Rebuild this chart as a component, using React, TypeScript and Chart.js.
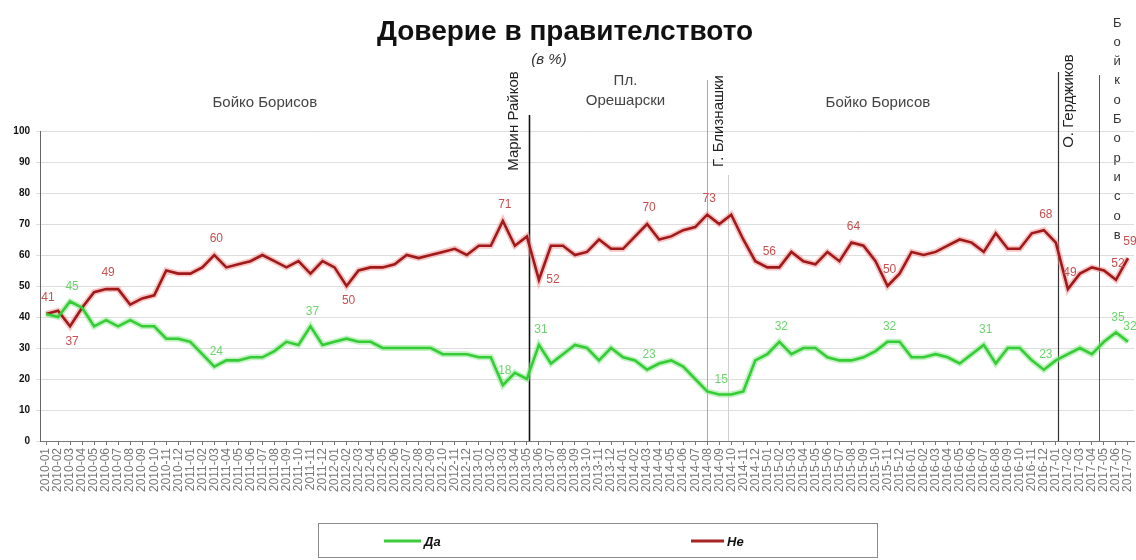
import React, { useEffect, useRef } from "react";
import { Chart, registerables } from "chart.js";

Chart.register(...registerables);

const months: string[] = [
  "2010-01", "2010-02", "2010-03", "2010-04", "2010-05", "2010-06", "2010-07", "2010-08", "2010-09", "2010-10", "2010-11", "2010-12",
  "2011-01", "2011-02", "2011-03", "2011-04", "2011-05", "2011-06", "2011-07", "2011-08", "2011-09", "2011-10", "2011-11", "2011-12",
  "2012-01", "2012-02", "2012-03", "2012-04", "2012-05", "2012-06", "2012-07", "2012-08", "2012-09", "2012-10", "2012-11", "2012-12",
  "2013-01", "2013-02", "2013-03", "2013-04", "2013-05", "2013-06", "2013-07", "2013-08", "2013-09", "2013-10", "2013-11", "2013-12",
  "2014-01", "2014-02", "2014-03", "2014-04", "2014-05", "2014-06", "2014-07", "2014-08", "2014-09", "2014-10", "2014-11", "2014-12",
  "2015-01", "2015-02", "2015-03", "2015-04", "2015-05", "2015-06", "2015-07", "2015-08", "2015-09", "2015-10", "2015-11", "2015-12",
  "2016-01", "2016-02", "2016-03", "2016-04", "2016-05", "2016-06", "2016-07", "2016-08", "2016-09", "2016-10", "2016-11", "2016-12",
  "2017-01", "2017-02", "2017-03", "2017-04", "2017-05", "2017-06", "2017-07",
];

const da: number[] = [
  41, 40, 45, 43, 37, 39, 37, 39, 37, 37, 33, 33, 32, 28, 24, 26, 26, 27, 27, 29, 32, 31, 37, 31, 32, 33, 32, 32,
  30, 30, 30, 30, 30, 28, 28, 28, 27, 27, 18, 22, 20, 31, 25, 28, 31, 30, 26, 30, 27, 26, 23, 25, 26, 24, 20, 16, 15, 15, 16,
  26, 28, 32, 28, 30, 30, 27, 26, 26, 27, 29, 32, 32, 27, 27, 28, 27, 25, 28, 31, 25, 30, 30, 26, 23, 26, 28, 30, 28, 32, 35, 32,
];

const ne: number[] = [
  41, 42, 37, 43, 48, 49, 49, 44, 46, 47, 55, 54, 54, 56, 60, 56, 57, 58, 60, 58, 56, 58, 54, 58, 56, 50, 55, 56,
  56, 57, 60, 59, 60, 61, 62, 60, 63, 63, 71, 63, 66, 52, 63, 63, 60, 61, 65, 62, 62, 66, 70, 65, 66, 68, 69, 73, 70, 73, 65,
  58, 56, 56, 61, 58, 57, 61, 58, 64, 63, 58, 50, 54, 61, 60, 61, 63, 65, 64, 61, 67, 62, 62, 67, 68, 64, 49, 54, 56, 55, 52, 59,
];

const seriesNames: string[] = ["Да", "Не"];

// indices of labelled points
const daLabelIdx: number[] = [2, 14, 22, 38, 41, 50, 56, 61, 70, 78, 83, 89, 90];
const neLabelIdx: number[] = [0, 2, 5, 14, 25, 38, 41, 50, 55, 60, 67, 70, 83, 85, 89, 90];
const neLabelsBelow: number[] = [2, 25];
const neLabelsRight: number[] = [41];

const title = "Доверие в правителството";
const subtitle = "(в %)";

// government periods (horizontal labels), position as category index
const periodTexts: string[][] = [["Бойко Борисов"], ["Пл.", "Орешарски"], ["Бойко Борисов"]];
const periodAt: number[] = [18.2, 48.2, 69.2];

// caretaker / change markers: line position and rotated label position (category index)
const markerNames: string[] = ["Марин Райков", "Г. Близнашки", "О. Герджиков", "Бойко Борисов"];
const markerLineAt: number[] = [40.2, 55.0, 84.2, 87.6];
const markerTextAt: number[] = [38.9, 56.0, 85.1, 89.1];

const FONT = "'Liberation Sans', Arial, sans-serif";

const overlay = {
  id: "overlay",
  beforeDatasetsDraw(chart: any) {
    const ctx = chart.ctx as CanvasRenderingContext2D;
    const xs = chart.scales.x;
    const bottom = chart.chartArea.bottom;
    const tops = [115, 80, 72, 75];
    const colors = ["#111", "#aaa", "#333", "#555"];
    const widths = [1.6, 1, 1.2, 1];
    ctx.save();
    markerLineAt.forEach((v, i) => {
      const x = Math.round(xs.getPixelForValue(v)) + 0.5;
      ctx.strokeStyle = colors[i];
      ctx.lineWidth = widths[i];
      ctx.beginPath();
      ctx.moveTo(x, tops[i]);
      ctx.lineTo(x, bottom);
      ctx.stroke();
    });
    const xb = Math.round(xs.getPixelForValue(56.7)) + 0.5;
    ctx.strokeStyle = "#cfcfcf";
    ctx.lineWidth = 1;
    ctx.beginPath();
    ctx.moveTo(xb, 175);
    ctx.lineTo(xb, bottom);
    ctx.stroke();
    ctx.restore();
  },
  afterDatasetsDraw(chart: any) {
    const ctx = chart.ctx as CanvasRenderingContext2D;
    const xs = chart.scales.x;
    const ys = chart.scales.y;
    ctx.save();
    ctx.font = `12px ${FONT}`;
    ctx.textAlign = "center";
    ctx.textBaseline = "middle";
    ctx.fillStyle = "#6cd46c";
    daLabelIdx.forEach((i) => {
      const x = xs.getPixelForValue(i);
      const y = ys.getPixelForValue(da[i]);
      ctx.fillText(String(da[i]), x + 2, y - 15);
    });
    ctx.fillStyle = "#c85050";
    neLabelIdx.forEach((i) => {
      const x = xs.getPixelForValue(i);
      const y = ys.getPixelForValue(ne[i]);
      if (neLabelsBelow.includes(i)) ctx.fillText(String(ne[i]), x + 2, y + 15);
      else if (neLabelsRight.includes(i)) ctx.fillText(String(ne[i]), x + 14, y);
      else ctx.fillText(String(ne[i]), x + 2, y - 16);
    });
    ctx.restore();
  },
  afterDraw(chart: any) {
    const ctx = chart.ctx as CanvasRenderingContext2D;
    const xs = chart.scales.x;
    ctx.save();
    ctx.fillStyle = "#111";
    ctx.textAlign = "center";
    ctx.textBaseline = "middle";
    ctx.font = `bold 28px ${FONT}`;
    ctx.fillText(title, 565, 32);
    ctx.font = `italic 15px ${FONT}`;
    ctx.fillStyle = "#333";
    ctx.fillText(subtitle, 549, 60);

    ctx.font = `15px ${FONT}`;
    ctx.fillStyle = "#444";
    periodTexts.forEach((lines, k) => {
      const x = xs.getPixelForValue(periodAt[k]);
      const y0 = lines.length > 1 ? 81 : 103;
      lines.forEach((t, j) => ctx.fillText(t, x, y0 + j * 20));
    });

    const centersY = [121, 121, 101];
    for (let k = 0; k < 3; k++) {
      const x = xs.getPixelForValue(markerTextAt[k]);
      ctx.save();
      ctx.translate(x, centersY[k]);
      ctx.rotate(-Math.PI / 2);
      ctx.fillStyle = "#222";
      ctx.font = `15px ${FONT}`;
      ctx.fillText(markerNames[k], 0, 0);
      ctx.restore();
    }
    const xl = xs.getPixelForValue(markerTextAt[3]);
    ctx.font = `13px ${FONT}`;
    ctx.fillStyle = "#333";
    const letters = Array.from(markerNames[3].replace(" ", ""));
    letters.forEach((ch, j) => ctx.fillText(ch, xl, 23 + j * 19.3));

    ctx.strokeStyle = "#8a8a8a";
    ctx.lineWidth = 1;
    ctx.strokeRect(318.5, 523.5, 559, 34);
    ctx.lineWidth = 3;
    ctx.strokeStyle = "#3ccc3c";
    ctx.beginPath();
    ctx.moveTo(384, 541);
    ctx.lineTo(421, 541);
    ctx.stroke();
    ctx.strokeStyle = "#a82424";
    ctx.beginPath();
    ctx.moveTo(691, 541);
    ctx.lineTo(724, 541);
    ctx.stroke();
    ctx.fillStyle = "#111";
    ctx.font = `italic bold 13px ${FONT}`;
    ctx.textAlign = "left";
    ctx.fillText(seriesNames[0], 424, 542);
    ctx.fillText(seriesNames[1], 727, 542);
    ctx.restore();
  },
};

export default function App() {
  const ref = useRef<HTMLCanvasElement | null>(null);
  useEffect(() => {
    if (!ref.current) return;
    const chart = new Chart(ref.current, {
      type: "line",
      data: {
        labels: months,
        datasets: [
          { label: seriesNames[0], data: da, borderColor: "#36cc36", borderWidth: 2.6, pointRadius: 0, order: 1, tension: 0 },
          { label: seriesNames[1], data: ne, borderColor: "#a01a1a", borderWidth: 2.6, pointRadius: 0, order: 1, tension: 0 },
          { label: "h1", data: da, borderColor: "rgba(140,230,140,0.55)", borderWidth: 6, pointRadius: 0, order: 2, tension: 0 },
          { label: "h2", data: ne, borderColor: "rgba(240,140,140,0.5)", borderWidth: 6, pointRadius: 0, order: 2, tension: 0 },
        ],
      },
      options: {
        animation: false,
        responsive: false,
        maintainAspectRatio: false,
        devicePixelRatio: 1,
        layout: { padding: { top: 131, left: 0, right: 2, bottom: 0 } },
        plugins: { legend: { display: false }, tooltip: { enabled: false }, title: { display: false } },
        scales: {
          x: {
            type: "category",
            offset: true,
            grid: { display: true, drawOnChartArea: false, drawTicks: true, tickLength: 4, color: "#777" },
            border: { color: "#777" },
            ticks: { autoSkip: false, minRotation: 90, maxRotation: 90, font: { size: 12, family: FONT }, color: "#777", padding: 3 },
            afterFit: (s: any) => { s.height = 119; s.paddingLeft = 0; s.paddingRight = 0; },
          },
          y: {
            min: 0,
            max: 100,
            ticks: { stepSize: 10, font: { size: 10, weight: "bold", family: FONT }, color: "#111", padding: 6 },
            grid: { color: "#dedede", tickLength: 4 },
            border: { color: "#666" },
            afterFit: (s: any) => { s.width = 40; s.paddingTop = 0; s.paddingBottom = 0; },
          },
        },
      },
      plugins: [overlay],
    } as any);
    return () => chart.destroy();
  }, []);
  return (
    <div style={{ position: "absolute", left: 0, top: 0, width: 1136, height: 560, background: "#fff" }}>
      <canvas ref={ref} width={1136} height={560} style={{ width: 1136, height: 560 }} />
    </div>
  );
}
